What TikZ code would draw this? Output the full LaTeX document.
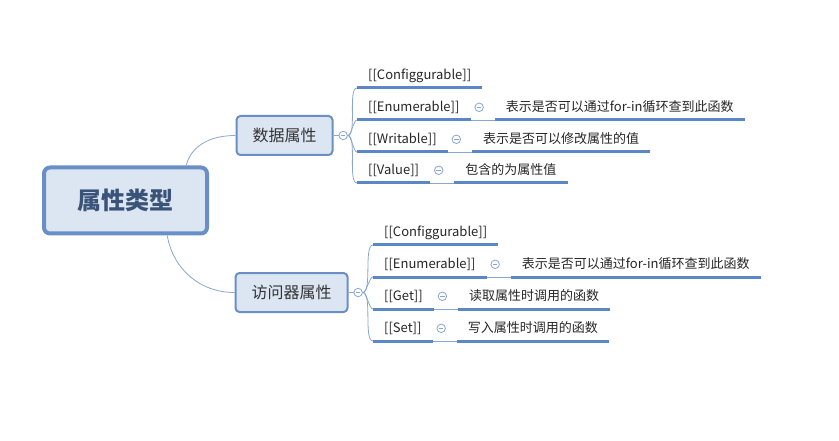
\documentclass[tikz,border=0pt]{standalone}
\usepackage{fontspec}
\setmainfont{Noto Sans CJK SC}
\usetikzlibrary{positioning}
\definecolor{boxfill}{HTML}{DCE6F2}
\definecolor{boxline}{HTML}{6A8FC6}
\definecolor{ulinecol}{HTML}{5A88C4}
\definecolor{twig}{HTML}{8AA6CE}
\definecolor{roottext}{HTML}{3A5479}

\begin{document}
\begin{tikzpicture}[x=1pt, y=1pt, node distance=24pt,
    root/.style={draw=boxline, line width=4pt, fill=boxfill, rounded corners=6pt, minimum width=163pt, minimum height=66pt, font=\fontsize{24}{28}\selectfont\bfseries, text=roottext},
    topic/.style={draw=boxline, line width=2pt, fill=boxfill, rounded corners=4pt, minimum height=39pt, inner xsep=16pt, font=\fontsize{16}{19}\selectfont, text=black!80},
    leaf/.style={anchor=south west, inner xsep=11pt, inner ysep=5pt, text height=10pt, text depth=3pt, font=\fontsize{13}{15}\selectfont, text=black!85},
    fold/.style={circle, draw=twig, fill=white, line width=0.8pt, minimum size=8.5pt, inner sep=0pt, path picture={\draw[twig, line width=0.8pt] ([xshift=2pt]path picture bounding box.west) -- ([xshift=-2pt]path picture bounding box.east);}},
    branch/.style={draw=twig, line width=0.8pt},
    uline/.style={draw=ulinecol, line width=3pt}]
    \useasboundingbox (0,0) rectangle (839,-441);

    \node[root] (root) at (125.5,-200.5) {属性类型};
    \node[topic] (data) at (284.5,-135.5) {数据属性};
    \node[topic] (acc) at (291.5,-292.5) {访问器属性};
    \node[fold, right=5pt of data] (f1) {};
    \node[fold, right=5pt of acc] (f2) {};

    \node[leaf] (c1) at (357,-88) {[[Configgurable]]};
    \node[leaf] (e1) at (357,-120) {[[Enumerable]]};
    \node[leaf] (w1) at (357,-152) {[[Writable]]};
    \node[leaf] (v1) at (357,-183) {[[Value]]};
    \node[leaf, right=of e1] (e1d) {表示是否可以通过for-in循环查到此函数};
    \node[leaf, right=of w1] (w1d) {表示是否可以修改属性的值};
    \node[leaf, right=of v1] (v1d) {包含的为属性值};

    \node[leaf] (c2) at (373,-245) {[[Configgurable]]};
    \node[leaf] (e2) at (373,-277) {[[Enumerable]]};
    \node[leaf] (g2) at (373,-309) {[[Get]]};
    \node[leaf] (s2) at (373,-341) {[[Set]]};
    \node[leaf, right=of e2] (e2d) {表示是否可以通过for-in循环查到此函数};
    \node[leaf, right=of g2] (g2d) {读取属性时调用的函数};
    \node[leaf, right=of s2] (s2d) {写入属性时调用的函数};

    \draw[branch] (root.30) to[out=75,in=180] (data.west);
    \draw[branch] (root.-40) to[out=-80,in=180] (acc.west);
    \draw[branch] (data.east) -- (f1.west);
    \draw[branch] (acc.east) -- (f2.west);

    \foreach \n in {c1,e1,w1,v1}
        \draw[branch] (f1.east) to[out=0,in=180,looseness=0.5] (\n.south west);
    \foreach \n in {c2,e2,g2,s2}
        \draw[branch] (f2.east) to[out=0,in=180,looseness=0.5] (\n.south west);

    \foreach \n in {e1,w1,v1,e2,g2,s2}
        \draw[branch] (\n.south east) -- (\n d.south west);

    \foreach \n in {c1,e1,w1,v1,e1d,w1d,v1d,c2,e2,g2,s2,e2d,g2d,s2d}
        \draw[uline] (\n.south west) -- (\n.south east);

    \foreach \n in {e1,w1,v1,e2,g2,s2}
        \node[fold] (\n-f) at ([xshift=8.5pt,yshift=1pt]\n.east) {};
\end{tikzpicture}
\end{document}
